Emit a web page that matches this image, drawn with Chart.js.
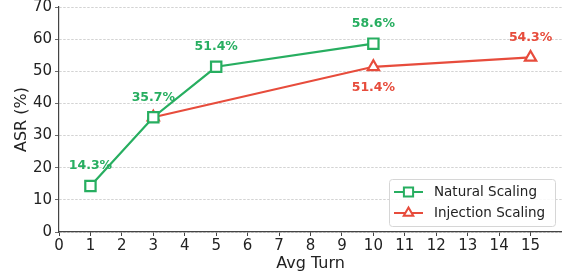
<!DOCTYPE html>
<html>
<head>
<meta charset="utf-8">
<script src="https://cdn.jsdelivr.net/npm/chart.js@4/dist/chart.umd.min.js"></script>
<style>
  html, body { margin: 0; padding: 0; background: #fff; }
  #wrap { width: 562px; height: 277px; position: relative; }
</style>
</head>
<body>
<div id="wrap"><canvas id="asrChart"></canvas></div>
<script>
/* ─── Data ──────────────────────────────────────────────────────────────── */
const naturalTurns  = [1, 3, 5, 10];
const naturalAsr    = [14.3, 35.7, 51.4, 58.6];
const injectTurns   = [3, 10, 15];
const injectAsr     = [35.7, 51.4, 54.3];
// which labels to show and where (above / below), per point
const injectLabelPos = [null, 'below', 'above'];
const xTicks = [0, 1, 2, 3, 4, 5, 6, 7, 8, 9, 10, 11, 12, 13, 14, 15];
const yTicks = [0, 10, 20, 30, 40, 50, 60, 70];

const GREEN = '#27ae60';
const RED   = '#e74c3c';
const FONT  = "'DejaVu Sans', sans-serif";

/* ─── Value labels + matplotlib style legend ───────────────────────────── */
const labelPlugin = {
  id: 'valueLabels',
  afterDatasetsDraw(chart) {
    const { ctx, scales: { x, y } } = chart;
    ctx.save();
    ctx.font = 'bold 12.5px ' + FONT;
    ctx.textAlign = 'center';
    ctx.textBaseline = 'middle';

    ctx.fillStyle = GREEN;
    naturalTurns.forEach((t, i) => {
      ctx.fillText(naturalAsr[i].toFixed(1) + '%', x.getPixelForValue(t), y.getPixelForValue(naturalAsr[i]) - 20);
    });

    ctx.fillStyle = RED;
    injectTurns.forEach((t, i) => {
      const pos = injectLabelPos[i];
      if (!pos) return;
      const dy = pos === 'below' ? 21 : -20;
      ctx.fillText(injectAsr[i].toFixed(1) + '%', x.getPixelForValue(t), y.getPixelForValue(injectAsr[i]) + dy);
    });
    ctx.restore();
  },
  afterDraw(chart) {
    const { ctx, chartArea } = chart;
    const bw = 166, bh = 47;
    const bx = chartArea.right - bw - 7, by = chartArea.bottom - bh - 6;
    ctx.save();
    ctx.fillStyle = 'rgba(255,255,255,0.85)';
    ctx.strokeStyle = '#d6d6d6';
    ctx.lineWidth = 1;
    ctx.beginPath();
    ctx.roundRect(bx + 0.5, by + 0.5, bw, bh, 3);
    ctx.fill();
    ctx.stroke();

    const items = [
      { label: 'Natural Scaling', color: GREEN, style: 'rect', r: 6.5 },
      { label: 'Injection Scaling', color: RED, style: 'triangle', r: 5.5 }
    ];
    items.forEach((it, i) => {
      const cy = by + 13 + i * 21;
      ctx.strokeStyle = it.color;
      ctx.lineWidth = 2;
      ctx.beginPath();
      ctx.moveTo(bx + 5, cy);
      ctx.lineTo(bx + 34, cy);
      ctx.stroke();
      ctx.fillStyle = '#fff';
      Chart.helpers.drawPoint(ctx, { pointStyle: it.style, radius: it.r, borderWidth: 2 }, bx + 19.5, cy);
      ctx.fillStyle = '#222';
      ctx.font = '13.5px ' + FONT;
      ctx.textAlign = 'left';
      ctx.textBaseline = 'middle';
      ctx.fillText(it.label, bx + 45, cy);
    });
    ctx.restore();
  }
};

/* ─── Chart ─────────────────────────────────────────────────────────────── */
new Chart(document.getElementById('asrChart'), {
  type: 'line',
  data: {
    datasets: [
      {
        label: 'Injection Scaling',
        data: injectTurns.map((t, i) => ({ x: t, y: injectAsr[i] })),
        borderColor: RED,
        backgroundColor: '#fff',
        borderWidth: 2.2,
        pointStyle: 'triangle',
        pointRadius: 6.5,
        pointBorderWidth: 2.2,
        clip: false,
        order: 2
      },
      {
        label: 'Natural Scaling',
        data: naturalTurns.map((t, i) => ({ x: t, y: naturalAsr[i] })),
        borderColor: GREEN,
        backgroundColor: '#fff',
        borderWidth: 2.2,
        pointStyle: 'rect',
        pointRadius: 7.3,
        pointBorderWidth: 2.2,
        clip: false,
        order: 1
      }
    ]
  },
  options: {
    responsive: true,
    maintainAspectRatio: false,
    animation: false,
    layout: { autoPadding: false, padding: { top: 7, right: 0, left: 0, bottom: 0 } },
    plugins: {
      legend: { display: false },
      tooltip: { enabled: false }
    },
    scales: {
      x: {
        type: 'linear',
        min: 0,
        max: 16,
        afterBuildTicks: axis => { axis.ticks = xTicks.map(v => ({ value: v })); },
        afterFit: axis => { axis.height = 45; axis.paddingRight = 0; axis.paddingLeft = 0; },
        grid: { display: true, drawOnChartArea: false, drawTicks: true, tickLength: 4, color: '#444' },
        border: { display: true, color: '#444', width: 1.2 },
        ticks: { color: '#222', font: { family: FONT, size: 15 }, padding: 1, maxRotation: 0, autoSkip: false },
        title: { display: true, text: 'Avg Turn', color: '#222', font: { family: FONT, size: 16 }, padding: { top: 0 } }
      },
      y: {
        min: 0,
        max: 70,
        afterBuildTicks: axis => { axis.ticks = yTicks.map(v => ({ value: v })); },
        afterFit: axis => { axis.width = 59; axis.paddingTop = 0; axis.paddingBottom = 0; },
        grid: { color: '#c8c8c8', drawTicks: true, tickLength: 4, tickColor: '#444', lineWidth: 0.8 },
        border: { display: true, color: '#444', width: 1.2, dash: [2.5, 1.5] },
        ticks: { color: '#222', font: { family: FONT, size: 15 }, padding: 3 },
        title: { display: true, text: 'ASR (%)', color: '#222', font: { family: FONT, size: 16 }, padding: { top: 12, bottom: 0 } }
      }
    }
  },
  plugins: [labelPlugin]
});
</script>
</body>
</html>
